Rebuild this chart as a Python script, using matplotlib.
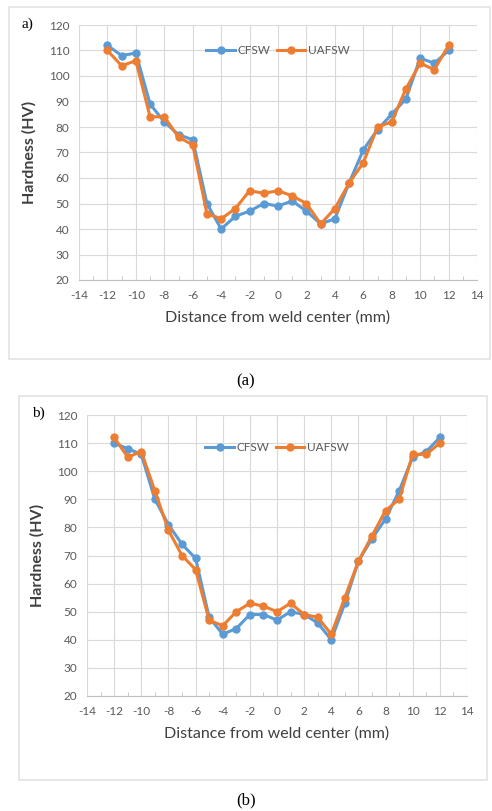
import matplotlib.pyplot as plt
from matplotlib.patches import Rectangle

plt.rcParams['axes.unicode_minus'] = False

# distance from weld center (mm)
dist = list(range(-12, 13))

# panel (a)
cfsw_a = [112, 108, 109, 89, 82, 77, 75, 50, 40, 45, 47, 50, 49,
          51, 47, 42, 44, 58, 71, 79, 85, 91, 107, 105, 110]
uafsw_a = [110, 104, 106, 84, 84, 76, 73, 46, 44, 48, 55, 54, 55,
           53, 50, 42, 48, 58, 66, 80, 82, 95, 105, 102.5, 112]

# panel (b)
cfsw_b = [110, 108, 106, 90, 81, 74, 69, 48, 42, 44, 49, 49, 47,
          50, 49, 46, 40, 53, 68, 76, 83, 93, 105, 107, 112]
uafsw_b = [112, 105, 107, 93, 79, 70, 65, 47, 45, 50, 53, 52, 50,
           53, 49, 48, 42, 55, 68, 77, 86, 90, 106, 106, 110]

x_ticks = list(range(-14, 15, 2))
y_ticks = list(range(20, 121, 10))

BLUE = '#5B9BD5'
ORANGE = '#ED7D31'
TICK = '#595959'
GRID = '#D9D9D9'
SANS = ['Lato', 'DejaVu Sans']
SERIF = ['Liberation Serif', 'DejaVu Serif']

W, H = 492, 811
fig = plt.figure(figsize=(W / 100, H / 100), dpi=100)


def px_axes(left, top, right, bottom):
    return fig.add_axes([left / W, 1 - bottom / H, (right - left) / W, (bottom - top) / H])


def draw_panel(ax, cfsw, uafsw, leg_y):
    ax.plot(dist, cfsw, color=BLUE, lw=2.2, marker='o', ms=5, label='CFSW', zorder=3)
    ax.plot(dist, uafsw, color=ORANGE, lw=2.2, marker='o', ms=5, label='UAFSW', zorder=4)
    ax.set_xlim(-14, 14)
    ax.set_ylim(20, 120)
    ax.set_xticks(x_ticks)
    ax.set_yticks(y_ticks)
    ax.set_xticks(range(-13, 14, 2), minor=True)
    ax.grid(True, color=GRID, lw=0.8)
    ax.set_axisbelow(True)
    for s in ['top', 'right', 'left']:
        ax.spines[s].set_visible(False)
    ax.spines['bottom'].set_color('#BFBFBF')
    ax.tick_params(axis='both', which='major', length=0, labelsize=8.5, colors=TICK, pad=7)
    ax.tick_params(axis='x', which='minor', direction='in', length=3, color='#BFBFBF')
    for lab in ax.get_xticklabels() + ax.get_yticklabels():
        lab.set_family(SANS)
    ax.set_xlabel('Distance from weld center (mm)', fontsize=11.5, color='#404040',
                  family=SANS, labelpad=7)
    ax.set_ylabel('Hardness (HV)', fontsize=11.5, color='#404040', family=SANS,
                  fontweight='bold', labelpad=9)
    ax.legend(loc='center', bbox_to_anchor=(0.5, leg_y), ncol=2, frameon=False,
              prop={'family': SANS, 'size': 8.5}, labelcolor=TICK,
              handlelength=2.4, columnspacing=0.6, handletextpad=0.2, borderpad=0)


# outer frames
fig.patches.append(Rectangle((9 / W, 1 - 359 / H), (490 - 9) / W, (359 - 7) / H,
                             transform=fig.transFigure, fill=False, ec='#E3E3E3', lw=1.2))
fig.patches.append(Rectangle((19 / W, 1 - 780 / H), (487 - 19) / W, (780 - 396) / H,
                             transform=fig.transFigure, fill=False, ec='#E3E3E3', lw=1.2))

ax1 = px_axes(79, 25, 477, 280)
draw_panel(ax1, cfsw_a, uafsw_a, 0.90)
ax2 = px_axes(87, 415, 467, 696)
draw_panel(ax2, cfsw_b, uafsw_b, 0.885)

fig.text(27 / W, 1 - 24 / H, 'a)', family=SERIF, fontsize=11, ha='center', va='center')
fig.text(38 / W, 1 - 413 / H, 'b)', family=SERIF, fontsize=11, ha='center', va='center')
fig.text(0.5, 1 - 381 / H, '(a)', family=SERIF, fontsize=12, ha='center', va='center')
fig.text(0.5, 1 - 800 / H, '(b)', family=SERIF, fontsize=12, ha='center', va='center')

fig.savefig('out.png', dpi=100)
